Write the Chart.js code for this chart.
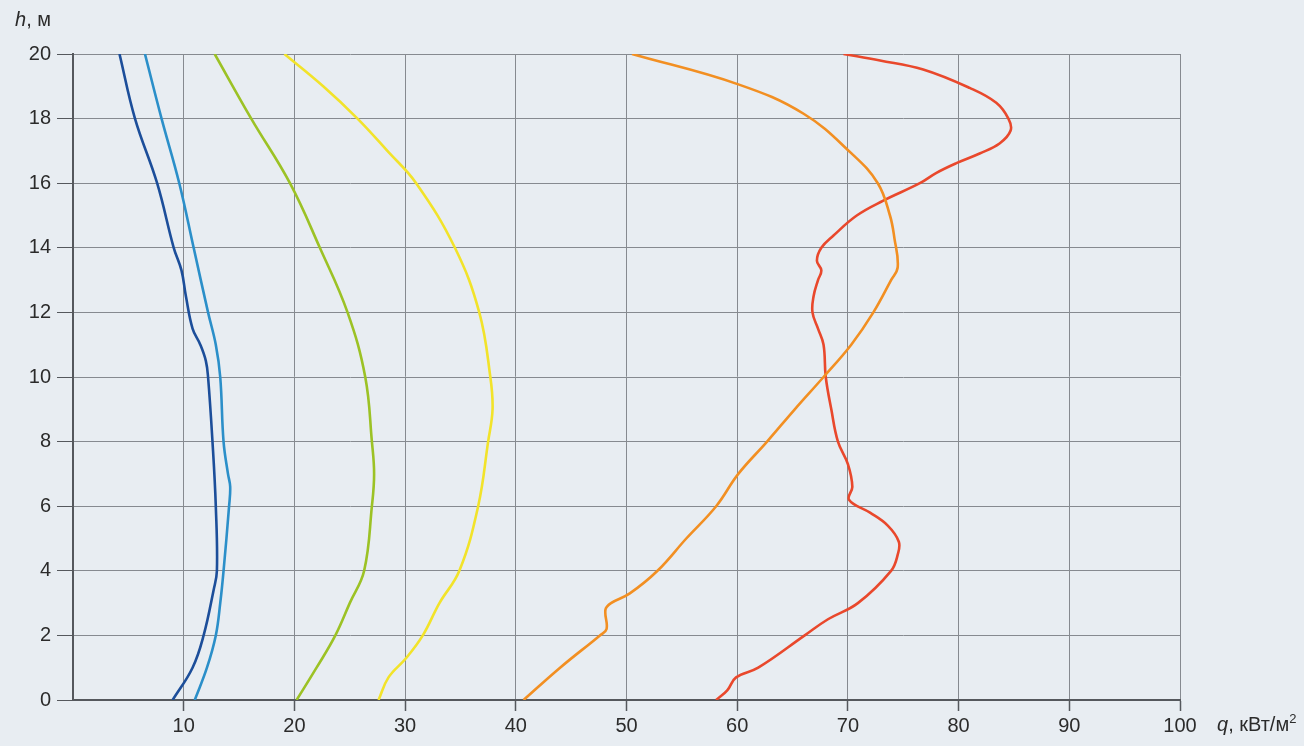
<!DOCTYPE html>
<html>
<head>
<meta charset="utf-8">
<script src="https://cdn.jsdelivr.net/npm/chart.js@4"></script>
<style>
  html, body { margin: 0; padding: 0; background: #e8edf2; }
  #wrap { position: relative; width: 1304px; height: 746px; }
  canvas { position: absolute; left: 0; top: 0; }
  .title { position: absolute; font-family: "Liberation Sans", Arial, sans-serif; font-size: 20px; color: #2b2b2b; white-space: nowrap; }
  .title i { font-style: italic; }
</style>
</head>
<body>
<div id="wrap">
  <canvas id="chart" width="1304" height="746"></canvas>
  <div class="title" style="left:15px; top:8px;"><i>h</i>, м</div>
  <div class="title" style="left:1217px; top:711px;"><i>q</i>, кВт/м<sup style="font-size:13px;">2</sup></div>
</div>
<script>
// h, м (vertical) and q, кВт/м² (horizontal) for each curve
const darkBlueH = [20, 18, 16, 14, 13.3, 12.5, 11.5, 11, 10.5, 10, 8, 6, 4, 3.4, 2, 1, 0];
const darkBlueQ = [4.2, 5.6, 7.6, 9.1, 9.8, 10.2, 10.8, 11.5, 12.0, 12.2, 12.6, 12.9, 13.0, 12.7, 11.8, 10.8, 9.0];

const lightBlueH = [20, 18, 16, 14, 12, 11, 10, 8, 7, 6.6, 6, 4, 3, 2, 1, 0];
const lightBlueQ = [6.5, 8.0, 9.6, 10.9, 12.2, 12.9, 13.3, 13.6, 14.0, 14.2, 14.1, 13.6, 13.3, 12.9, 12.1, 11.0];

const greenH = [20, 18, 16, 14, 12, 10, 8, 7, 6, 4, 3, 2, 1, 0];
const greenQ = [12.8, 16.1, 19.6, 22.3, 24.8, 26.4, 27.0, 27.2, 27.0, 26.3, 25.0, 23.7, 22.0, 20.2];

const yellowH = [20, 19, 18, 17, 16, 14, 12, 10, 9, 8, 6, 4, 3, 2, 1.3, 0.7, 0];
const yellowQ = [19.1, 22.6, 25.7, 28.4, 31.0, 34.5, 36.7, 37.7, 37.9, 37.5, 36.6, 34.9, 33.1, 31.6, 30.1, 28.5, 27.6];

const orangeH = [20, 19.06, 18.15, 16.93, 16, 15, 14.3, 13.4, 13, 12, 11, 10, 9, 8, 7, 6, 5, 4, 3.3, 3.0, 2.8, 2.2, 2, 1, 0];
const orangeQ = [50.5, 60.1, 66.0, 70.3, 72.7, 73.8, 74.2, 74.5, 73.9, 72.3, 70.3, 67.8, 65.2, 62.7, 60.1, 58.1, 55.4, 52.8, 50.3, 48.6, 48.1, 48.2, 47.6, 44.0, 40.7];

const redH = [20, 19.8, 19.52, 18.95, 18.49, 18, 17.63, 17.23, 16.92, 16.62, 16.32, 16, 15.46, 15, 14.38, 14, 13.6, 13.3, 13, 12.5, 12, 11.5, 11, 10, 9, 8, 7.3, 6.6, 6.2, 5.8, 5.4, 4.9, 4.5, 4, 3, 2.5, 2, 1, 0.7, 0.3, 0];
const redQ = [69.6, 72.9, 76.8, 81.0, 83.4, 84.5, 84.7, 83.7, 81.9, 79.8, 78.0, 76.5, 73.2, 70.8, 68.7, 67.6, 67.2, 67.6, 67.3, 66.9, 66.8, 67.3, 67.8, 68.0, 68.5, 69.1, 70.0, 70.4, 70.1, 72.0, 73.6, 74.6, 74.5, 73.9, 70.9, 68.2, 66.1, 61.9, 59.9, 59.1, 58.1];

const qTicks = [0, 10, 20, 30, 40, 50, 60, 70, 80, 90, 100];
const hTicks = [0, 2, 4, 6, 8, 10, 12, 14, 16, 18, 20];

function toPoints(q, h) {
    return q.map((v, i) => ({ x: v, y: h[i] }));
}

function curve(q, h, color) {
    return {
        data: toPoints(q, h),
        showLine: true,
        borderColor: color,
        borderWidth: 2.6,
        pointRadius: 0,
        tension: 0.4,
        fill: false
    };
}

const font = { family: '"Liberation Sans", Arial, sans-serif', size: 20 };

new Chart(document.getElementById("chart"), {
    type: "scatter",
    data: {
        datasets: [
            curve(darkBlueQ, darkBlueH, "#1c4e9a"),
            curve(lightBlueQ, lightBlueH, "#2b8fc9"),
            curve(greenQ, greenH, "#9cc225"),
            curve(yellowQ, yellowH, "#f2e32a"),
            curve(orangeQ, orangeH, "#f28f22"),
            curve(redQ, redH, "#e9482c")
        ]
    },
    options: {
        responsive: false,
        animation: false,
        layout: { padding: { left: 0, right: 124, top: 54, bottom: 0 } },
        plugins: {
            legend: { display: false },
            tooltip: { enabled: false }
        },
        scales: {
            x: {
                type: "linear",
                min: 0,
                max: 100,
                afterBuildTicks: axis => { axis.ticks = qTicks.map(v => ({ value: v })); },
                afterFit: axis => { axis.height = 46; },
                border: { color: "#55585d", width: 2 },
                grid: {
                    color: ctx => ctx.tick && ctx.tick.value === 0 ? "rgba(0,0,0,0)" : "#868a90",
                    tickColor: ctx => ctx.tick && ctx.tick.value === 0 ? "rgba(0,0,0,0)" : "#55585d",
                    lineWidth: 1,
                    tickLength: 11,
                    tickWidth: 1.5,
                    drawTicks: true
                },
                ticks: {
                    color: "#2b2b2b",
                    font: font,
                    padding: 3,
                    maxRotation: 0,
                    callback: v => v === 0 ? "" : v
                }
            },
            y: {
                type: "linear",
                min: 0,
                max: 20,
                afterBuildTicks: axis => { axis.ticks = hTicks.map(v => ({ value: v })); },
                afterFit: axis => { axis.width = 73; },
                border: { color: "#55585d", width: 2 },
                grid: {
                    color: "#868a90",
                    tickColor: "#55585d",
                    lineWidth: 1,
                    tickLength: 16,
                    drawTicks: true
                },
                ticks: {
                    color: "#2b2b2b",
                    font: font,
                    padding: 6
                }
            }
        }
    }
});
</script>
</body>
</html>
